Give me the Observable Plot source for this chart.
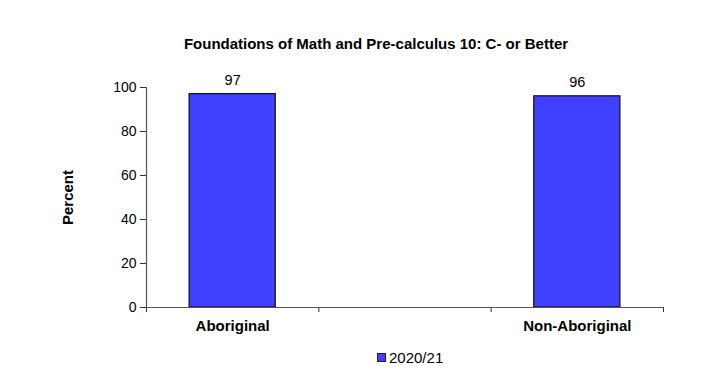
<!DOCTYPE html>
<html>
<head>
<meta charset="utf-8">
<script src="https://cdn.jsdelivr.net/npm/d3@7"></script>
<script src="https://cdn.jsdelivr.net/npm/@observablehq/plot@0.6"></script>
<style>
  html, body { margin: 0; padding: 0; background: #fff; }
  body { width: 713px; height: 386px; position: relative; font-family: "Liberation Sans", Arial, sans-serif; }
  #title { position: absolute; top: 35px; left: 0; width: 752px; text-align: center; font-weight: bold; font-size: 15px; color: #000; }
  #chart { position: absolute; top: 60px; left: 0; }
  #legend { position: absolute; top: 349px; left: 377px; display: flex; align-items: center; font-size: 15px; color: #000; }
  #legend .sw { width: 7px; height: 7px; background: #4040FF; border: 1px solid #222; margin-right: 3px; }
  #chart svg [aria-label="y-axis label"] text { font-weight: bold; font-size: 15px; }
</style>
</head>
<body>
<div id="title">Foundations of Math and Pre-calculus 10: C- or Better</div>
<div id="chart"></div>
<div id="legend"><span class="sw"></span><span>2020/21</span></div>
<script>
const categories = ["Aboriginal", "", "Non-Aboriginal"];
const values2020 = [97, null, 96];
const seriesName = "2020/21";
const yTicks = [0, 20, 40, 60, 80, 100];

const rows = categories.map((c, i) => ({ cat: c, i, value: values2020[i] }));
const bars = rows.filter(d => d.value != null);

const plot = Plot.plot({
  width: 713,
  height: 280,
  marginLeft: 146,
  marginRight: 50,
  marginTop: 27,
  marginBottom: 33,
  style: { fontFamily: "'Liberation Sans', Arial, sans-serif", fontSize: "14px", color: "#000", background: "#fff" },
  x: { type: "linear", domain: [0, categories.length], axis: null },
  y: { domain: [0, 100], axis: null },
  marks: [
    Plot.axisY({ ticks: yTicks, tickSize: 6, tickPadding: 4, label: "Percent", labelAnchor: "center", labelArrow: "none", labelOffset: 84, fontSize: 14, stroke: "#333" }),
    Plot.axisX({ ticks: d3.range(categories.length + 1), tickFormat: () => "", tickSize: 5, stroke: "#333" }),
    Plot.rectY(bars, { x1: d => d.i + 0.25, x2: d => d.i + 0.75, y1: 0, y2: "value", fill: "#4040FF", stroke: "#111", strokeWidth: 1.2 }),
    Plot.ruleY([0], { stroke: "#555", strokeWidth: 1.2 }),
    Plot.ruleX([0], { stroke: "#555", strokeWidth: 1.2 }),
    Plot.text(bars, { x: d => d.i + 0.5, y: "value", text: d => String(d.value), dy: -14, fontSize: 14.5, fill: "#000" }),
    Plot.text(rows.filter(d => d.cat), { x: d => d.i + 0.5, y: 0, text: "cat", dy: 19, fontSize: 15, fontWeight: "bold", fill: "#000" })
  ]
});
document.getElementById("chart").appendChild(plot);
</script>
</body>
</html>
